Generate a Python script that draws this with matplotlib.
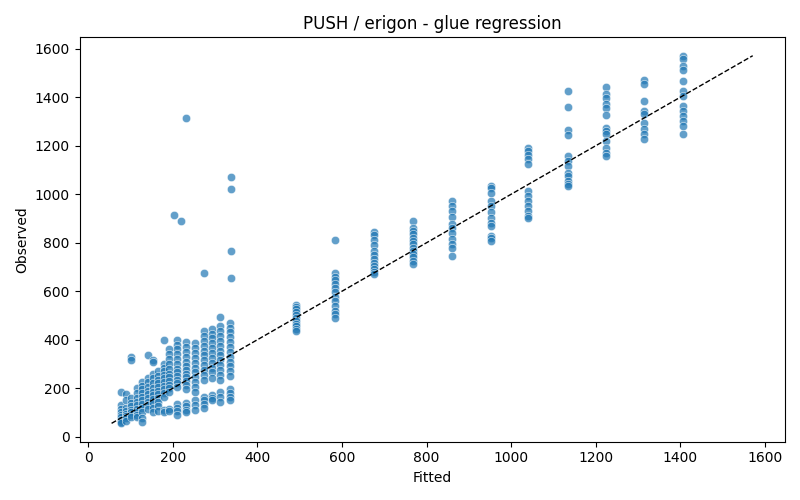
import numpy as np
import pandas as pd
import seaborn as sns
import matplotlib
matplotlib.use("Agg")
import matplotlib.pyplot as plt

col_fitted = [78, 90, 102, 115, 128, 140, 152, 165, 178, 190, 210, 230, 252,
              273, 292, 312, 334,
              492, 584, 675, 767, 859, 951, 1040, 1134, 1224, 1315, 1407]
col_observed = [
    [185, 130, 115, 100, 90, 80, 70, 62, 55],
    [175, 150, 120, 105, 95, 85, 75, 65],
    [330, 315, 160, 140, 125, 110, 100, 90, 80],
    [200, 180, 160, 145, 130, 115, 100, 90, 80],
    [225, 210, 195, 180, 165, 150, 135, 120, 100, 75, 62],
    [335, 240, 225, 205, 190, 175, 160, 145, 130, 115],
    [315, 310, 260, 240, 220, 200, 185, 170, 155, 140, 120, 100],
    [270, 250, 235, 220, 205, 190, 175, 160, 145, 125, 105],
    [400, 300, 285, 270, 255, 240, 225, 210, 195, 180, 165, 110, 100],
    [360, 340, 320, 300, 280, 260, 245, 230, 215, 200, 185, 115, 105],
    [400, 380, 360, 340, 320, 300, 280, 265, 250, 235, 220, 205, 135, 120, 105, 90],
    [390, 370, 350, 330, 310, 290, 275, 260, 245, 230, 215, 195, 140, 125, 110, 100],
    [385, 365, 345, 325, 305, 285, 265, 245, 225, 205, 185, 150, 130, 110],
    [437, 415, 395, 375, 355, 335, 315, 295, 275, 255, 235, 165, 150, 135, 120],
    [445, 425, 405, 385, 365, 345, 325, 305, 285, 265, 240, 170, 160, 150],
    [495, 455, 435, 415, 395, 375, 355, 335, 315, 295, 275, 255, 235, 185, 165, 145],
    [470, 450, 430, 410, 390, 370, 350, 330, 310, 290, 270, 252, 195, 180, 165, 150],
    [545, 535, 525, 515, 500, 490, 478, 466, 455, 445, 435],
    [810, 675, 660, 645, 630, 615, 595, 575, 560, 540, 520, 505, 490],
    [845, 830, 810, 790, 765, 748, 732, 716, 702, 690, 680, 670],
    [891, 862, 848, 835, 821, 808, 796, 780, 767, 752, 742, 726, 713],
    [973, 953, 932, 905, 878, 862, 841, 816, 796, 779, 746],
    [1035, 1027, 1005, 973, 953, 928, 903, 882, 870, 829, 818, 808],
    [1190, 1179, 1160, 1146, 1126, 1014, 994, 973, 953, 932, 911, 900],
    [1425, 1360, 1265, 1245, 1159, 1138, 1118, 1089, 1076, 1056, 1043, 1035],
    [1443, 1414, 1398, 1373, 1357, 1328, 1274, 1262, 1249, 1220, 1192, 1171, 1159],
    [1472, 1456, 1386, 1344, 1332, 1295, 1270, 1249, 1229],
    [1571, 1559, 1530, 1513, 1468, 1427, 1406, 1365, 1344, 1324, 1303, 1282, 1249],
]

# the few points far off their column
out_fitted = [202, 218, 230, 273, 338, 338, 338, 338]
out_observed = [915, 891, 1315, 677, 1072, 1020, 767, 656]

fitted = []
observed = []
for f, obs in zip(col_fitted, col_observed):
    fitted += [f] * len(obs)
    observed += obs
fitted += out_fitted
observed += out_observed
df = pd.DataFrame({"fitted": fitted, "observed": observed})

fig, ax = plt.subplots(figsize=(8, 5), dpi=100)
sns.scatterplot(data=df, x="fitted", y="observed", alpha=0.7, ax=ax)

lo = min(df["fitted"].min(), df["observed"].min())
hi = max(df["fitted"].max(), df["observed"].max())
ax.plot([lo, hi], [lo, hi], "k--", linewidth=1)

ax.set_xlabel("Fitted")
ax.set_ylabel("Observed")
ax.set_title("PUSH / erigon - glue regression")
plt.tight_layout()
plt.savefig("out.png")
